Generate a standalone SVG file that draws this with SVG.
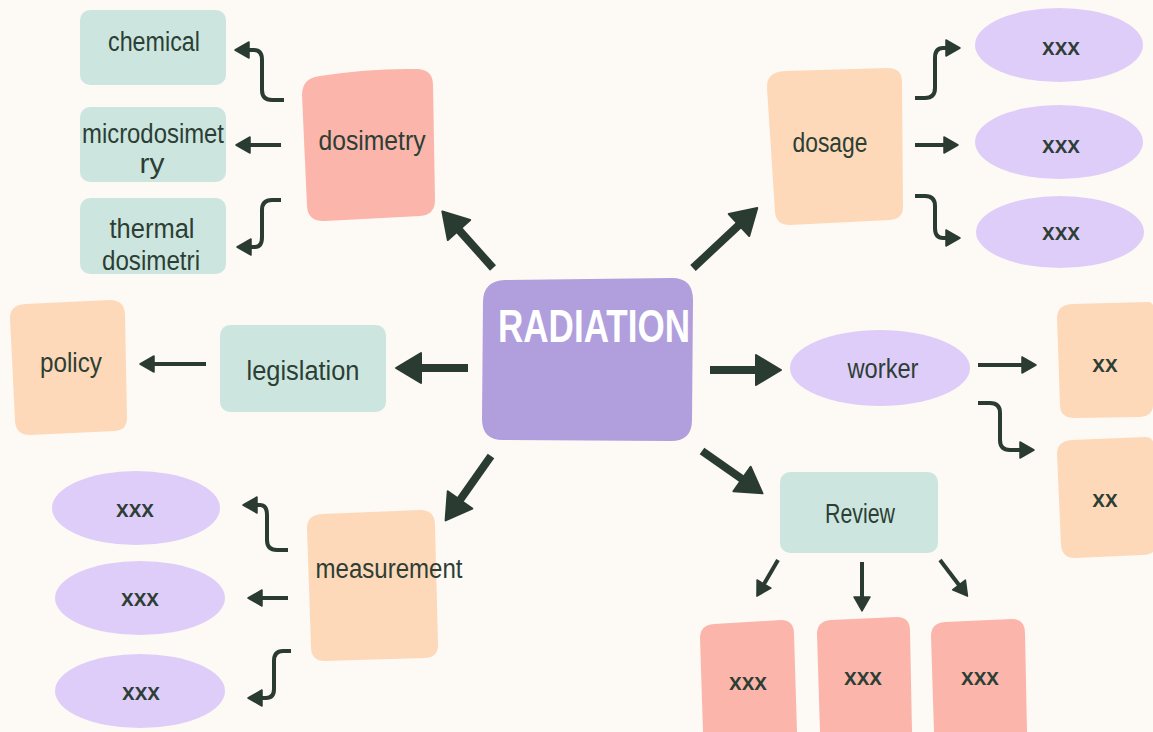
<svg xmlns="http://www.w3.org/2000/svg" width="1153" height="732" viewBox="0 0 1153 732">
  <style>
    .bg { fill: #fdf9f5; }
    .mint { fill: #cce6df; }
    .salmon { fill: #fbb5ab; }
    .peach { fill: #fdd9b9; }
    .lav { fill: #dfcdf9; }
    .core { fill: #b09edd; }
    .lbl { font-family: "Liberation Sans Narrow", "Liberation Sans", sans-serif; font-size: 27px; fill: #2d3e35; text-anchor: middle; }
    .xs { font-family: "Open Sans", "Liberation Sans", sans-serif; font-weight: 600; font-size: 23px; fill: #2d3e35; text-anchor: middle; }
    .title { font-family: "Liberation Sans Narrow", "Liberation Sans", sans-serif; font-weight: bold; font-size: 46px; fill: #ffffff; text-anchor: middle; }
    .thick { fill: none; stroke: #2a3b31; stroke-width: 8; marker-end: url(#bigHead); }
    .thin { fill: none; stroke: #2a3b31; stroke-width: 4; marker-end: url(#smallHead); }
  </style>
  <defs>
    <marker id="bigHead" markerUnits="userSpaceOnUse" viewBox="0 -16 26 32" refX="0" refY="0" markerWidth="26" markerHeight="32" orient="auto" overflow="visible">
      <path d="M0,-15 L25,0 L0,15 Z" fill="#2a3b31" stroke="#2a3b31" stroke-width="2" stroke-linejoin="round"/>
    </marker>
    <marker id="smallHead" markerUnits="userSpaceOnUse" viewBox="0 -9 15 18" refX="0" refY="0" markerWidth="15" markerHeight="18" orient="auto" overflow="visible">
      <path d="M0,-8 L14,0 L0,8 Z" fill="#2a3b31" stroke="#2a3b31" stroke-width="1.5" stroke-linejoin="round"/>
    </marker>
  </defs>

  <rect class="bg" x="0" y="0" width="1153" height="732"/>

  <!-- connectors -->
  <g id="connectors">
    <!-- from the centre -->
    <line class="thick" x1="493" y1="268" x2="459" y2="230"/>
    <line class="thick" x1="693" y1="268" x2="739" y2="225"/>
    <line class="thick" x1="468" y1="368" x2="421" y2="368"/>
    <line class="thick" x1="710" y1="370" x2="756" y2="370"/>
    <line class="thick" x1="491" y1="456" x2="460" y2="500"/>
    <line class="thick" x1="702" y1="451" x2="742" y2="479"/>

    <!-- dosimetry branches -->
    <path class="thin" d="M284,100 L272,100 Q262,100 262,90 L262,60 Q262,50 254,50 L249,50"/>
    <path class="thin" d="M281,145 L250,145"/>
    <path class="thin" d="M281,200 L272,200 Q262,200 262,210 L262,237 Q262,247 255,247 L251,247"/>

    <!-- dosage branches -->
    <path class="thin" d="M915,98 L925,98 Q935,98 935,88 L935,58 Q935,48 943,48 L946,48"/>
    <path class="thin" d="M915,145 L944,145"/>
    <path class="thin" d="M915,196 L925,196 Q935,196 935,206 L935,228 Q935,238 943,238 L946,238"/>

    <!-- worker branches -->
    <path class="thin" d="M978,365 L1022,365"/>
    <path class="thin" d="M978,403 L990,403 Q1000,403 1000,413 L1000,440 Q1000,450 1010,450 L1020,450"/>

    <!-- legislation to policy -->
    <path class="thin" d="M206,364 L154,364"/>

    <!-- measurement branches -->
    <path class="thin" d="M288,550 L277,550 Q267,550 267,540 L267,515 Q267,505 260,505 L257,505"/>
    <path class="thin" d="M288,598 L262,598"/>
    <path class="thin" d="M291,651 L283,651 Q274,651 274,661 L274,689 Q274,698 266,698 L262,698"/>

    <!-- review branches -->
    <path class="thin" d="M778,560 L764,584"/>
    <path class="thin" d="M862,562 L862,597"/>
    <path class="thin" d="M940,560 L959,585"/>
  </g>

  <!-- centre node -->
  <g id="radiation">
    <path class="core" d="M505,280 L672,278 Q693,278 693,300 L692,420 Q692,441 671,441 L503,440 Q482,440 482,419 L483,302 Q483,281 505,280 Z"/>
    <text class="title" x="594" y="342" textLength="192" lengthAdjust="spacingAndGlyphs">RADIATION</text>
  </g>

  <!-- dosimetry branch -->
  <g id="dosimetry">
    <path class="salmon" d="M320,76 Q370,68 418,69 Q433,70 433,85 L435,200 Q435,215 420,216 L325,221 Q308,222 307,206 L302,95 Q302,78 320,76 Z"/>
    <text class="lbl" x="372" y="150" textLength="107" lengthAdjust="spacingAndGlyphs">dosimetry</text>
  </g>
  <g id="chemical">
    <rect class="mint" x="80" y="10" width="146" height="75" rx="10"/>
    <text class="lbl" x="154" y="51" textLength="92" lengthAdjust="spacingAndGlyphs">chemical</text>
  </g>
  <g id="microdosimetry">
    <rect class="mint" x="80" y="107" width="146" height="75" rx="10"/>
    <text class="lbl" x="153" y="143" textLength="142" lengthAdjust="spacingAndGlyphs">microdosimet</text>
    <text class="lbl" x="152" y="173" textLength="25" lengthAdjust="spacingAndGlyphs">ry</text>
  </g>
  <g id="thermal">
    <rect class="mint" x="80" y="198" width="146" height="76" rx="10"/>
    <text class="lbl" x="152" y="238" textLength="85" lengthAdjust="spacingAndGlyphs">thermal</text>
    <text class="lbl" x="151" y="270" textLength="98" lengthAdjust="spacingAndGlyphs">dosimetri</text>
  </g>

  <!-- dosage branch -->
  <g id="dosage">
    <path class="peach" d="M785,71 L888,68 Q902,68 902,82 L903,207 Q903,219 890,220 L790,225 Q776,225 775,212 L767,88 Q766,72 785,71 Z"/>
    <text class="lbl" x="830" y="152" textLength="75" lengthAdjust="spacingAndGlyphs">dosage</text>
  </g>
  <g id="dose-a">
    <ellipse class="lav" cx="1059" cy="45" rx="84" ry="37"/>
    <text class="xs" x="1061" y="55">xxx</text>
  </g>
  <g id="dose-b">
    <ellipse class="lav" cx="1059" cy="142" rx="84" ry="37"/>
    <text class="xs" x="1061" y="153">xxx</text>
  </g>
  <g id="dose-c">
    <ellipse class="lav" cx="1060" cy="232" rx="84" ry="36"/>
    <text class="xs" x="1061" y="240">xxx</text>
  </g>

  <!-- legislation branch -->
  <g id="legislation">
    <rect class="mint" x="220" y="325" width="166" height="87" rx="10"/>
    <text class="lbl" x="303" y="380" textLength="113" lengthAdjust="spacingAndGlyphs">legislation</text>
  </g>
  <g id="policy">
    <path class="peach" d="M25,304 L110,300 Q124,300 125,314 L127,418 Q127,430 115,431 L30,435 Q16,435 15,421 L10,318 Q10,305 25,304 Z"/>
    <text class="lbl" x="71" y="372" textLength="62" lengthAdjust="spacingAndGlyphs">policy</text>
  </g>

  <!-- measurement branch -->
  <g id="measurement">
    <path class="peach" d="M322,514 L420,510 Q435,510 435,525 L438,645 Q438,658 424,658 L325,661 Q311,661 311,647 L307,528 Q307,515 322,514 Z"/>
    <text class="lbl" x="389" y="578" textLength="147" lengthAdjust="spacingAndGlyphs">measurement</text>
  </g>
  <g id="measure-a">
    <ellipse class="lav" cx="136" cy="508" rx="84" ry="37"/>
    <text class="xs" x="135" y="517">xxx</text>
  </g>
  <g id="measure-b">
    <ellipse class="lav" cx="140" cy="598" rx="85" ry="37"/>
    <text class="xs" x="140" y="606">xxx</text>
  </g>
  <g id="measure-c">
    <ellipse class="lav" cx="140" cy="691" rx="85" ry="37"/>
    <text class="xs" x="141" y="700">xxx</text>
  </g>

  <!-- worker branch -->
  <g id="worker">
    <ellipse class="lav" cx="880" cy="368" rx="90" ry="38"/>
    <text class="lbl" x="883" y="378" textLength="71" lengthAdjust="spacingAndGlyphs">worker</text>
  </g>
  <g id="worker-a">
    <path class="peach" d="M1072,304 L1148,302 Q1155,302 1155,316 L1153,405 Q1153,416 1140,417 L1075,418 Q1060,418 1060,405 L1057,318 Q1057,305 1072,304 Z"/>
    <text class="xs" x="1105" y="372">xx</text>
  </g>
  <g id="worker-b">
    <path class="peach" d="M1072,440 L1145,437 Q1155,437 1155,450 L1155,548 Q1154,555 1142,555 L1075,558 Q1062,558 1061,545 L1057,454 Q1057,441 1072,440 Z"/>
    <text class="xs" x="1105" y="507">xx</text>
  </g>

  <!-- review branch -->
  <g id="review">
    <rect class="mint" x="780" y="472" width="158" height="81" rx="10"/>
    <text class="lbl" x="860" y="523" textLength="70" lengthAdjust="spacingAndGlyphs">Review</text>
  </g>
  <g id="review-a">
    <path class="salmon" d="M714,624 L781,620 Q794,620 794,634 L797,732 L703,732 L700,638 Q700,625 714,624 Z"/>
    <text class="xs" x="748" y="690">xxx</text>
  </g>
  <g id="review-b">
    <path class="salmon" d="M831,620 L897,617 Q910,617 910,631 L912,732 L820,732 L817,634 Q817,621 831,620 Z"/>
    <text class="xs" x="863" y="685">xxx</text>
  </g>
  <g id="review-c">
    <path class="salmon" d="M945,622 L1012,619 Q1025,619 1025,633 L1027,732 L934,732 L931,636 Q931,623 945,622 Z"/>
    <text class="xs" x="980" y="685">xxx</text>
  </g>
</svg>
